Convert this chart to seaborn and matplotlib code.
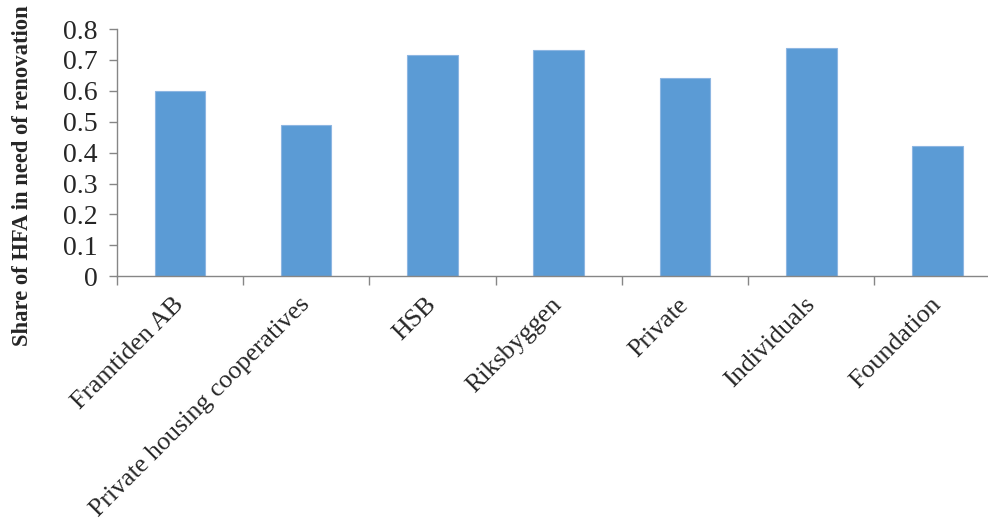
import matplotlib
matplotlib.use("Agg")
import matplotlib.pyplot as plt
import seaborn as sns
import pandas as pd
import numpy as np

# chart data
owners = ["Framtiden AB", "Private housing cooperatives", "HSB", "Riksbyggen",
          "Private", "Individuals", "Foundation"]
share_renovation = [0.60, 0.49, 0.716, 0.732, 0.64, 0.74, 0.422]
y_ticks = [0, 0.1, 0.2, 0.3, 0.4, 0.5, 0.6, 0.7, 0.8]
y_tick_labels = ["0", "0.1", "0.2", "0.3", "0.4", "0.5", "0.6", "0.7", "0.8"]

df = pd.DataFrame({"owner": owners, "share": share_renovation})

sns.set_style("white")
plt.rcParams['font.family'] = ['Liberation Serif', 'DejaVu Serif']

fig = plt.figure(figsize=(9.88, 5.24), dpi=100)
# axes runs a bit past the right edge like the original (cropped) chart
ax = fig.add_axes([116.7 / 988, (524 - 276.3) / 524, 884 / 988, 247.3 / 524])

sns.barplot(data=df, x="owner", y="share", color="#5B9BD5", width=0.4,
            edgecolor="#8DB6E2", linewidth=0.8, saturation=1, ax=ax)

ax.set_xlim(-0.5, len(owners) - 0.5)
ax.set_ylim(0, 0.8)
ax.set_yticks(y_ticks)
ax.set_yticklabels(y_tick_labels, fontsize=20)

# category labels, ticks between categories
ax.set_xticks(np.arange(len(owners)))
ax.set_xticklabels(owners, fontsize=18.7, rotation=45, ha="right",
                   rotation_mode="anchor", va="center")
ax.set_xticks(np.arange(len(owners) + 1) - 0.5, minor=True)
ax.tick_params(axis="x", which="major", length=0, pad=18)
ax.tick_params(axis="x", which="minor", length=6.5, width=1, color="#868686",
               direction="out", bottom=True)
ax.tick_params(axis="y", length=6, width=1, color="#868686", direction="out",
               left=True, pad=8)

for side in ["top", "right"]:
    ax.spines[side].set_visible(False)
for side in ["left", "bottom"]:
    ax.spines[side].set_color("#868686")
    ax.spines[side].set_linewidth(1)

ax.set_xlabel("")
ax.set_ylabel("Share of HFA in need of renovation", fontsize=16.3, fontweight="bold")
ax_w = 884.0
ax_h = 247.3
ax.yaxis.set_label_coords((33 - 116.7) / ax_w, (276.3 - 176) / ax_h)

fig.savefig("out.png", dpi=100)
